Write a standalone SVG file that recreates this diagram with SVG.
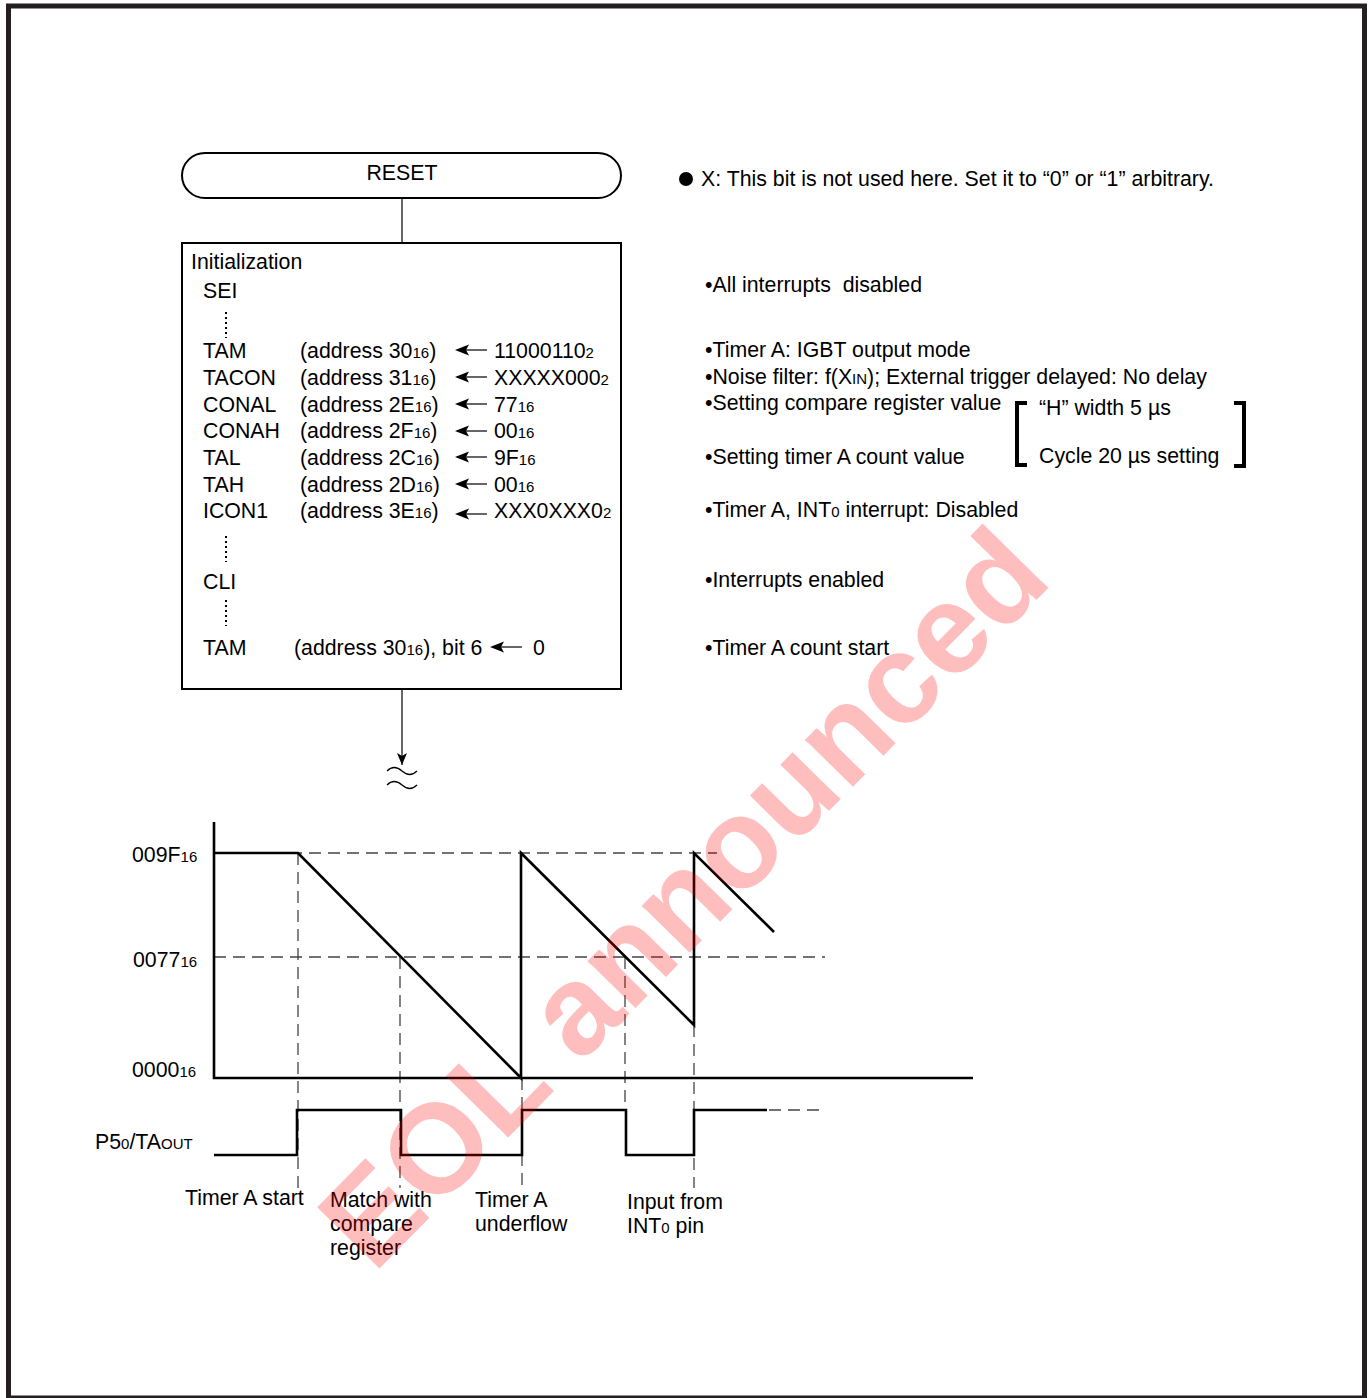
<svg xmlns="http://www.w3.org/2000/svg" width="1369" height="1398" viewBox="0 0 1369 1398">
<defs>
<style>
text{font-family:"Liberation Sans",Arial,sans-serif;font-size:21.3px;fill:#000}
.s{font-size:15px}
.box{fill:#fff;stroke:#000;stroke-width:2}
.thin{fill:none;stroke:#000;stroke-width:1.2}
.wave{fill:none;stroke:#000;stroke-width:2.6;stroke-linejoin:miter}
.dash{fill:none;stroke:#444;stroke-width:1.3;stroke-dasharray:12 7}
.dots{fill:none;stroke:#000;stroke-width:2;stroke-dasharray:2 3}
.brk{fill:none;stroke:#000;stroke-width:4}
</style>
<marker id="ah" viewBox="0 0 12 10" refX="12" refY="5" markerWidth="12" markerHeight="10" markerUnits="userSpaceOnUse" orient="auto">
<path d="M0,0 L12,5 L0,10 L3,5 Z" fill="#000"/>
</marker>
<path id="la" d="M0,0 l14,-5.5 l-3,5.5 l3,5.5 Z"/>
</defs>
<rect x="0" y="0" width="1369" height="1398" fill="#fff"/>
<rect x="8.5" y="6" width="1356" height="1392" fill="none" stroke="#231f20" stroke-width="5"/>

<g id="connectors">
<line class="thin" x1="402" y1="198" x2="402" y2="243"/>
<line class="thin" x1="402" y1="689" x2="402" y2="765" marker-end="url(#ah)"/>
<path class="thin" d="M387,771 q7,-7 15,0 t15,0 M387,785 q7,-7 15,0 t15,0"/>
</g>

<g id="reset">
<rect class="box" x="182" y="153" width="439" height="45" rx="23"/>
<text x="402" y="180" text-anchor="middle">RESET</text>
</g>

<g id="note">
<circle cx="686" cy="179" r="7"/>
<text x="701" y="186">X: This bit is not used here. Set it to “0” or “1” arbitrary.</text>
</g>

<g id="init">
<rect class="box" x="182" y="243" width="439" height="446"/>
<text x="191" y="269">Initialization</text>
<text x="203" y="298">SEI</text>
<line class="dots" x1="226" y1="312" x2="226" y2="338"/>
<text x="203" y="358">TAM</text><text x="300" y="358">(address 30<tspan class="s">16</tspan>)</text><use href="#la" x="455" y="350"/><line class="thin" x1="462" y1="350" x2="487" y2="350"/><text x="494" y="358">11000110<tspan class="s">2</tspan></text>
<text x="203" y="385">TACON</text><text x="300" y="385">(address 31<tspan class="s">16</tspan>)</text><use href="#la" x="455" y="377"/><line class="thin" x1="462" y1="377" x2="487" y2="377"/><text x="494" y="385">XXXXX000<tspan class="s">2</tspan></text>
<text x="203" y="412">CONAL</text><text x="300" y="412">(address 2E<tspan class="s">16</tspan>)</text><use href="#la" x="455" y="404"/><line class="thin" x1="462" y1="404" x2="487" y2="404"/><text x="494" y="412">77<tspan class="s">16</tspan></text>
<text x="203" y="438">CONAH</text><text x="300" y="438">(address 2F<tspan class="s">16</tspan>)</text><use href="#la" x="455" y="431"/><line class="thin" x1="462" y1="431" x2="487" y2="431"/><text x="494" y="438">00<tspan class="s">16</tspan></text>
<text x="203" y="465">TAL</text><text x="300" y="465">(address 2C<tspan class="s">16</tspan>)</text><use href="#la" x="455" y="457"/><line class="thin" x1="462" y1="457" x2="487" y2="457"/><text x="494" y="465">9F<tspan class="s">16</tspan></text>
<text x="203" y="492">TAH</text><text x="300" y="492">(address 2D<tspan class="s">16</tspan>)</text><use href="#la" x="455" y="484"/><line class="thin" x1="462" y1="484" x2="487" y2="484"/><text x="494" y="492">00<tspan class="s">16</tspan></text>
<text x="203" y="518">ICON1</text><text x="300" y="518">(address 3E<tspan class="s">16</tspan>)</text><use href="#la" x="455" y="514"/><line class="thin" x1="462" y1="514" x2="487" y2="514"/><text x="494" y="518">XXX0XXX0<tspan class="s">2</tspan></text>
<line class="dots" x1="226" y1="536" x2="226" y2="562"/>
<text x="203" y="589">CLI</text>
<line class="dots" x1="226" y1="600" x2="226" y2="626"/>
<text x="203" y="655">TAM</text><text x="294" y="655">(address 30<tspan class="s">16</tspan>), bit 6</text><use href="#la" x="490" y="647"/><line class="thin" x1="497" y1="647" x2="522" y2="647"/><text x="533" y="655">0</text>
</g>

<g id="comments">
<text x="705" y="292" xml:space="preserve">•All interrupts  disabled</text>
<text x="705" y="357">•Timer A: IGBT output mode</text>
<text x="705" y="384">•Noise filter: f(X<tspan class="s">IN</tspan>); External trigger delayed: No delay</text>
<text x="705" y="410">•Setting compare register value</text>
<text x="705" y="464">•Setting timer A count value</text>
<text x="705" y="517">•Timer A, INT<tspan class="s">0</tspan> interrupt: Disabled</text>
<text x="705" y="587">•Interrupts enabled</text>
<text x="705" y="655">•Timer A count start</text>
<path class="brk" d="M1027,403 H1017 V465 H1027"/>
<path class="brk" d="M1234,403 H1244 V466 H1234"/>
<text x="1039" y="415">“H” width 5 µs</text>
<text x="1039" y="463">Cycle 20 µs setting</text>
</g>

<g id="chart">
<path class="dash" d="M214,853 H717 M214,957 H825"/>
<path class="dash" d="M298,853 V1188 M400,957 V1188 M522,1078 V1188 M625,957 V1110 M694,1025 V1188 M769,1110 H825"/>
<path class="wave" d="M214,822 V1078 H973"/>
<path class="wave" d="M214,853 H298 L521,1078 V853 L694,1025 V853 L774,932"/>
<path class="wave" d="M214,1155 H297 V1110 H401 V1155 H522 V1110 H626 V1155 H694 V1110 H767"/>
<text x="132" y="862">009F<tspan class="s">16</tspan></text>
<text x="133" y="967">0077<tspan class="s">16</tspan></text>
<text x="132" y="1077">0000<tspan class="s">16</tspan></text>
<text x="95" y="1149">P5<tspan class="s">0</tspan>/TA<tspan class="s">OUT</tspan></text>
<text x="185" y="1205">Timer A start</text>
<text x="330" y="1207">Match with</text>
<text x="330" y="1231">compare</text>
<text x="330" y="1255">register</text>
<text x="475" y="1207">Timer A</text>
<text x="475" y="1231">underflow</text>
<text x="627" y="1209">Input from</text>
<text x="627" y="1233">INT<tspan class="s">0</tspan> pin</text>
</g>

<g id="watermark" opacity="0.25">
<text x="714" y="928" text-anchor="middle" transform="rotate(-45.5 714 928)" style="font-size:127px;font-weight:bold;fill:#ff0000">EOL announced</text>
</g>
</svg>
